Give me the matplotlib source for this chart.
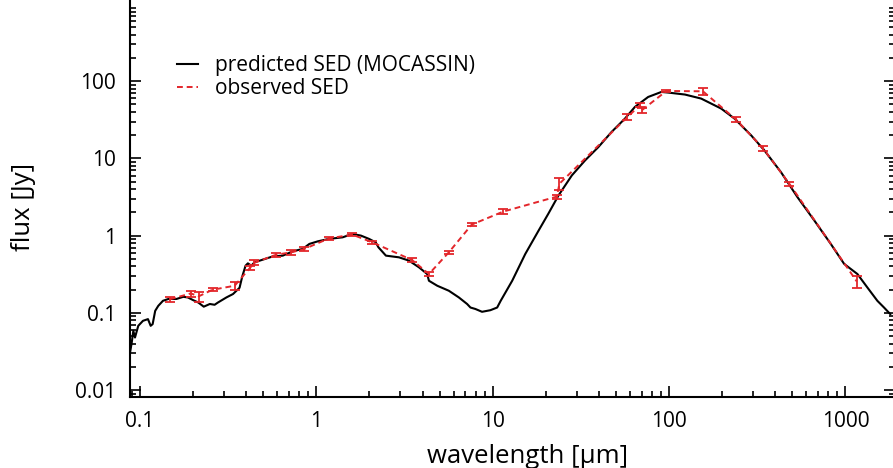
import numpy as np
import matplotlib
matplotlib.use('Agg')
import matplotlib.pyplot as plt
from matplotlib.lines import Line2D
from matplotlib.ticker import LogLocator, FixedLocator, NullFormatter
plt.rc('font', family='Open Sans', size=15)

# predicted SED (MOCASSIN)
model_wl = [0.0878, 0.0898, 0.0917, 0.0937, 0.0978, 0.104, 0.111, 0.115, 0.118, 0.122,
            0.127, 0.135, 0.145, 0.161, 0.176, 0.187, 0.200, 0.214, 0.230, 0.249,
            0.265, 0.277, 0.309, 0.337, 0.367, 0.380, 0.397, 0.409, 0.428, 0.446,
            0.497, 0.567, 0.645, 0.735, 0.837, 0.913, 1.02, 1.18, 1.41, 1.60,
            1.79, 1.99, 2.17, 2.25, 2.48, 2.94, 3.35, 3.82, 4.25, 4.35,
            4.85, 5.64, 6.43, 7.16, 7.48, 7.98, 8.70, 9.70, 10.6, 11.1,
            12.9, 15.3, 18.2, 20.7, 23.6, 28.1, 33.4, 39.7, 47.2, 56.2,
            64.0, 76.1, 90.4, 98.7, 123, 152, 197.5, 235, 292, 347,
            431, 535, 666, 826, 984, 1169, 1331, 1517, 1655, 1795]
model_flux = [0.0303, 0.0411, 0.0584, 0.0478, 0.0678, 0.0787, 0.0828, 0.0678, 0.0713, 0.106,
              0.123, 0.143, 0.151, 0.151, 0.161, 0.158, 0.146, 0.136, 0.120, 0.130,
              0.127, 0.136, 0.158, 0.175, 0.211, 0.294, 0.408, 0.437, 0.408, 0.450,
              0.488, 0.538, 0.550, 0.625, 0.672, 0.780, 0.843, 0.906, 0.950, 1.05,
              1.00, 0.906, 0.818, 0.705, 0.550, 0.523, 0.474, 0.388, 0.318, 0.260,
              0.224, 0.193, 0.158, 0.130, 0.117, 0.112, 0.103, 0.108, 0.117, 0.143,
              0.260, 0.578, 1.16, 1.93, 3.31, 6.02, 9.42, 14.0, 22.0, 32.8,
              46.4, 62.5, 72.6, 71.3, 67.2, 59.6, 44.2, 32.8, 19.9, 12.7,
              6.64, 3.14, 1.57, 0.780, 0.429, 0.318, 0.213, 0.143, 0.117, 0.0962]

# observed SED with relative errors
obs_wl = [0.148, 0.194, 0.216, 0.258, 0.344, 0.418, 0.446, 0.594, 0.722, 0.856,
          1.18, 1.60, 2.07, 3.49, 4.35, 5.64, 7.61, 11.5, 23.1, 23.9,
          58.1, 68.3, 70.0, 96.6, 155.6, 240, 340, 481, 1159]
obs_flux = [0.150, 0.178, 0.164, 0.199, 0.224, 0.376, 0.446, 0.567, 0.607, 0.672,
            0.92, 1.03, 0.82, 0.483, 0.318, 0.607, 1.39, 2.05, 3.2, 4.7,
            34.4, 48.8, 42.0, 74.8, 74.0, 31.8, 13.6, 4.69, 0.255]
obs_err = [0.08, 0.09, 0.15, 0.05, 0.13, 0.06, 0.08, 0.06, 0.07, 0.07,
           0.04, 0.04, 0.04, 0.05, 0.06, 0.05, 0.04, 0.08, 0.06, 0.17,
           0.08, 0.06, 0.08, 0.04, 0.11, 0.08, 0.07, 0.07, 0.17]

red = '#e3262b'
dash = (0, (3, 2))

fig = plt.figure(figsize=(8.93, 4.68), dpi=100)
ax = fig.add_axes([130/893, 71/468, 765/893, 402/468])

ax.plot(model_wl, model_flux, color='black', lw=1.5)
yerr = np.array(obs_flux) * np.array(obs_err)
ax.errorbar(obs_wl, obs_flux, yerr=yerr, color=red, lw=1.4, ls=dash,
            elinewidth=1.3, capsize=3.4, capthick=1.3)

ax.set_xscale('log')
ax.set_yscale('log')
ax.set_xlim(0.0878, 1910)
ax.set_ylim(0.00811, 1309)

ax.xaxis.set_major_locator(FixedLocator([0.1, 1, 10, 100, 1000]))
ax.set_xticklabels(['0.1', '1', '10', '100', '1000'])
ax.yaxis.set_major_locator(FixedLocator([0.01, 0.1, 1, 10, 100]))
ax.set_yticklabels(['0.01', '0.1', '1', '10', '100'])
for a in (ax.xaxis, ax.yaxis):
    a.set_minor_locator(LogLocator(base=10, subs=np.arange(2, 10), numticks=20))
    a.set_minor_formatter(NullFormatter())
ax.tick_params(which='both', direction='in', top=False, right=True, width=1.2)
ax.tick_params(which='major', length=8, pad=10)
ax.tick_params(which='minor', length=4)
for s in ax.spines.values():
    s.set_linewidth(1.5)

ax.set_xlabel('wavelength [μm]', fontsize=18.5)
ax.set_ylabel('flux [Jy]', fontsize=18.5)
ax.xaxis.set_label_coords(0.52, -0.117)
ax.yaxis.set_label_coords(-0.123, 0.473)

handles = [Line2D([], [], color='black', lw=1.5),
           Line2D([], [], color=red, lw=1.4, ls=dash)]
ax.legend(handles, ['predicted SED (MOCASSIN)', 'observed SED'],
          loc='upper left', bbox_to_anchor=(167/893, 1 - 45/468),
          bbox_transform=fig.transFigure, frameon=False,
          handlelength=1.0, handletextpad=0.8, labelspacing=0.1, borderpad=0)

fig.savefig('out.png', dpi=100)
